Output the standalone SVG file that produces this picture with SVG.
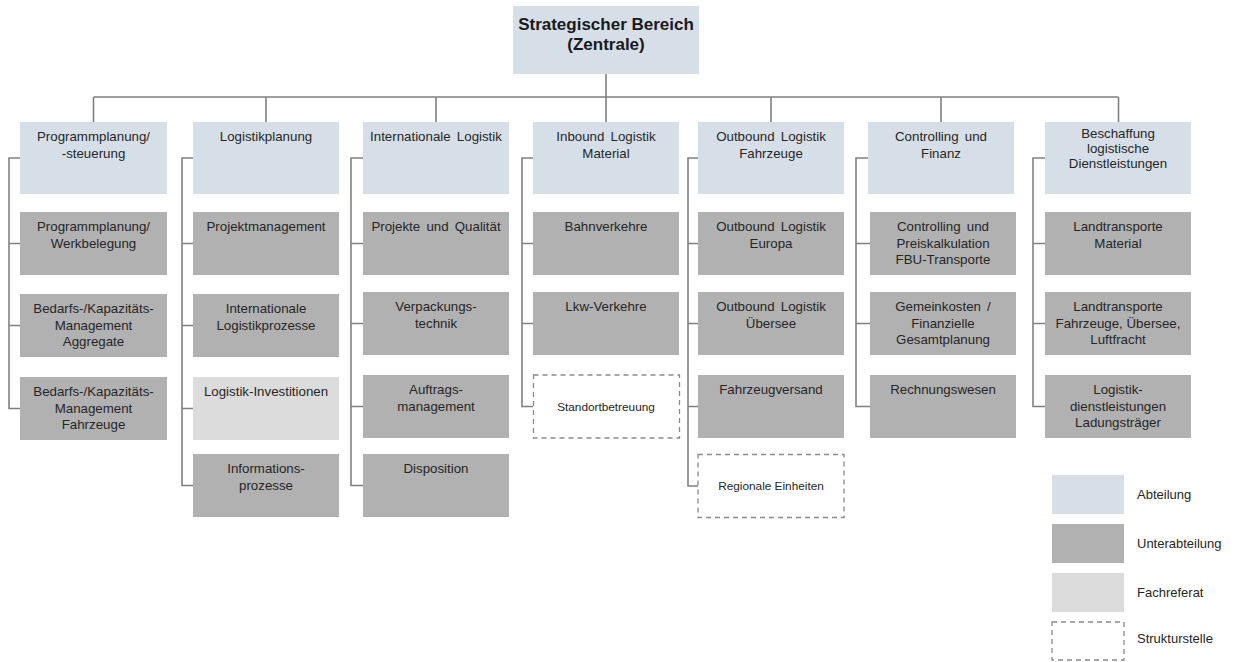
<svg xmlns="http://www.w3.org/2000/svg" width="1240" height="662" viewBox="0 0 1240 662">
<style>
.hd{fill:#d6dfe8}
.sb{fill:#b1b1b1}
.fr{fill:#dcdcdc}
.ds{fill:#ffffff;stroke:#8a8a8a;stroke-width:1.3;stroke-dasharray:5 4}
.ln{fill:none;stroke:#808080;stroke-width:1.6}
text{font-family:"Liberation Sans",Arial,sans-serif;font-size:13.3px;fill:#262626;text-anchor:middle}
.sm{font-size:11.8px}
.lg{text-anchor:start;font-size:13px}
.tt{font-size:17px;font-weight:bold;fill:#1a1a1a}
.ws{word-spacing:2.5px}
</style>
<rect width="1240" height="662" fill="#ffffff"/>
<g id="connectors" class="ln">
<path d="M606 74V122M93.5 97H1118.5M93.5 97V122M266 97V122M436 97V122M771 97V122M941 97V122M1118.5 97V122"/>
<path d="M20 158H9V408.5H20M9 243.5H20M9 325.5H20"/>
<path d="M193 158H182V485.5H193M182 243.5H193M182 325.5H193M182 408.5H193"/>
<path d="M363 158H351V485.5H363M351 243.5H363M351 323.5H363M351 406.5H363"/>
<path d="M533 158H522V406.5H533M522 243.5H533M522 323.5H533"/>
<path d="M698 158H688V486H698M688 243.5H698M688 323.5H698M688 406.5H698"/>
<path d="M868 158H856V406.5H870M856 243.5H870M856 323.5H870"/>
<path d="M1045 158H1033V406.5H1045M1033 243.5H1045M1033 323.5H1045"/>
</g>
<g id="top"><rect class="hd" x="513" y="6" width="186" height="68"/><text class="tt" x="606" y="30">Strategischer Bereich</text><text class="tt" x="606" y="50">(Zentrale)</text></g>
<g id="c1h"><rect class="hd" x="20" y="122" width="147" height="72"/><text x="93.5" y="141">Programmplanung/</text><text x="93.5" y="157.5">-steuerung</text></g>
<g id="c1s1"><rect class="sb" x="20" y="212" width="147" height="63"/><text x="93.5" y="231">Programmplanung/</text><text x="93.5" y="247.5">Werkbelegung</text></g>
<g id="c1s2"><rect class="sb" x="20" y="294" width="147" height="63"/><text x="93.5" y="313">Bedarfs-/Kapazitäts-</text><text x="93.5" y="329.5">Management</text><text x="93.5" y="346">Aggregate</text></g>
<g id="c1s3"><rect class="sb" x="20" y="377" width="147" height="63"/><text x="93.5" y="396">Bedarfs-/Kapazitäts-</text><text x="93.5" y="412.5">Management</text><text x="93.5" y="429">Fahrzeuge</text></g>
<g id="c2h"><rect class="hd" x="193" y="122" width="146" height="72"/><text x="266" y="141">Logistikplanung</text></g>
<g id="c2s1"><rect class="sb" x="193" y="212" width="146" height="63"/><text x="266" y="231">Projektmanagement</text></g>
<g id="c2s2"><rect class="sb" x="193" y="294" width="146" height="63"/><text x="266" y="313">Internationale</text><text x="266" y="329.5">Logistikprozesse</text></g>
<g id="c2s3"><rect class="fr" x="193" y="377" width="146" height="63"/><text x="266" y="396">Logistik-Investitionen</text></g>
<g id="c2s4"><rect class="sb" x="193" y="454" width="146" height="63"/><text x="266" y="473">Informations-</text><text x="266" y="489.5">prozesse</text></g>
<g id="c3h"><rect class="hd" x="363" y="122" width="146" height="72"/><text class="ws" x="436" y="141">Internationale Logistik</text></g>
<g id="c3s1"><rect class="sb" x="363" y="212" width="146" height="63"/><text class="ws" x="436" y="231">Projekte und Qualität</text></g>
<g id="c3s2"><rect class="sb" x="363" y="292" width="146" height="63"/><text x="436" y="311">Verpackungs-</text><text x="436" y="327.5">technik</text></g>
<g id="c3s3"><rect class="sb" x="363" y="375" width="146" height="63"/><text x="436" y="394">Auftrags-</text><text x="436" y="410.5">management</text></g>
<g id="c3s4"><rect class="sb" x="363" y="454" width="146" height="63"/><text x="436" y="473">Disposition</text></g>
<g id="c4h"><rect class="hd" x="533" y="122" width="146" height="72"/><text class="ws" x="606" y="141">Inbound Logistik</text><text x="606" y="157.5">Material</text></g>
<g id="c4s1"><rect class="sb" x="533" y="212" width="146" height="63"/><text x="606" y="231">Bahnverkehre</text></g>
<g id="c4s2"><rect class="sb" x="533" y="292" width="146" height="63"/><text x="606" y="311">Lkw-Verkehre</text></g>
<g id="c4s3"><rect class="ds" x="533.5" y="375" width="146" height="63"/><text class="sm" x="606" y="411">Standortbetreuung</text></g>
<g id="c5h"><rect class="hd" x="698" y="122" width="146" height="72"/><text class="ws" x="771" y="141">Outbound Logistik</text><text x="771" y="157.5">Fahrzeuge</text></g>
<g id="c5s1"><rect class="sb" x="698" y="212" width="146" height="63"/><text class="ws" x="771" y="231">Outbound Logistik</text><text x="771" y="247.5">Europa</text></g>
<g id="c5s2"><rect class="sb" x="698" y="292" width="146" height="63"/><text class="ws" x="771" y="311">Outbound Logistik</text><text x="771" y="327.5">Übersee</text></g>
<g id="c5s3"><rect class="sb" x="698" y="375" width="146" height="63"/><text x="771" y="394">Fahrzeugversand</text></g>
<g id="c5s4"><rect class="ds" x="698" y="454.5" width="146" height="63"/><text class="sm" x="771" y="490">Regionale Einheiten</text></g>
<g id="c6h"><rect class="hd" x="868" y="122" width="146" height="72"/><text class="ws" x="941" y="141">Controlling und</text><text x="941" y="157.5">Finanz</text></g>
<g id="c6s1"><rect class="sb" x="870" y="212" width="146" height="63"/><text class="ws" x="943" y="231">Controlling und</text><text x="943" y="247.5">Preiskalkulation</text><text x="943" y="264">FBU-Transporte</text></g>
<g id="c6s2"><rect class="sb" x="870" y="292" width="146" height="63"/><text class="ws" x="943" y="311">Gemeinkosten /</text><text x="943" y="327.5">Finanzielle</text><text x="943" y="344">Gesamtplanung</text></g>
<g id="c6s3"><rect class="sb" x="870" y="375" width="146" height="63"/><text x="943" y="394">Rechnungswesen</text></g>
<g id="c7h"><rect class="hd" x="1045" y="122" width="146" height="72"/><text x="1118" y="138">Beschaffung</text><text x="1118" y="153">logistische</text><text x="1118" y="168">Dienstleistungen</text></g>
<g id="c7s1"><rect class="sb" x="1045" y="212" width="146" height="63"/><text x="1118" y="231">Landtransporte</text><text x="1118" y="247.5">Material</text></g>
<g id="c7s2"><rect class="sb" x="1045" y="292" width="146" height="63"/><text x="1118" y="311">Landtransporte</text><text x="1118" y="327.5">Fahrzeuge, Übersee,</text><text x="1118" y="344">Luftfracht</text></g>
<g id="c7s3"><rect class="sb" x="1045" y="375" width="146" height="63"/><text x="1118" y="394">Logistik-</text><text x="1118" y="410.5">dienstleistungen</text><text x="1118" y="427">Ladungsträger</text></g>
<g id="legend">
<rect class="hd" x="1052" y="475" width="72" height="39"/><text class="lg" x="1137" y="499">Abteilung</text>
<rect class="sb" x="1052" y="524" width="72" height="39"/><text class="lg" x="1137" y="548">Unterabteilung</text>
<rect class="fr" x="1052" y="573" width="72" height="39"/><text class="lg" x="1137" y="597">Fachreferat</text>
<rect class="ds" x="1052" y="622" width="72" height="38"/><text class="lg" x="1137" y="643">Strukturstelle</text>
</g>
</svg>
